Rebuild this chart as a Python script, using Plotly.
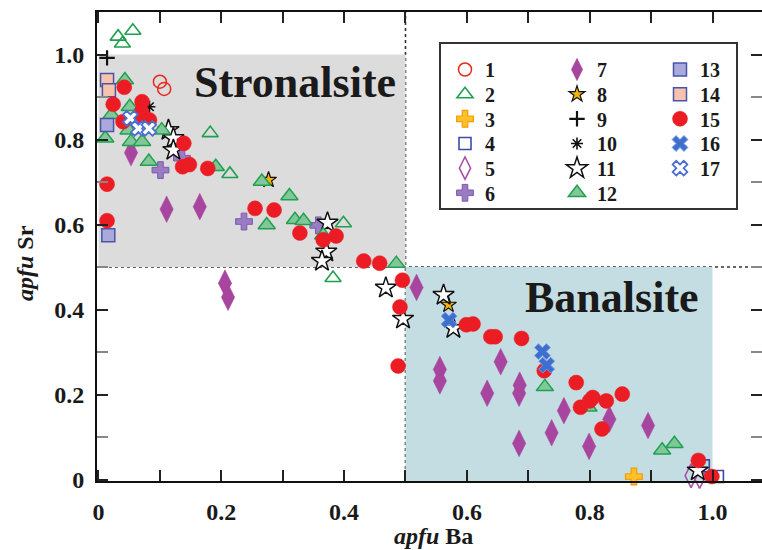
import plotly.graph_objects as go

# ---------------- data (apfu Ba, apfu Sr) ----------------
s1_x = [0.100, 0.107]
s1_y = [0.936, 0.919]
s2_x = [0.032, 0.056, 0.039, 0.182, 0.214, 0.399, 0.382]
s2_y = [1.042, 1.056, 1.026, 0.815, 0.719, 0.603, 0.474]
s3_x = [0.872]
s3_y = [0.007]
s4_x = [0.985, 1.008]
s4_y = [0.032, 0.007]
s5_x = [0.965, 0.979]
s5_y = [0.009, 0.007]
s6_x = [0.101, 0.136, 0.237, 0.358]
s6_y = [0.728, 0.756, 0.607, 0.598]
s7_x = [0.053, 0.111, 0.165, 0.206, 0.211, 0.518, 0.556, 0.556, 0.633, 0.655,
        0.686, 0.685, 0.685, 0.738, 0.758, 0.799, 0.832, 0.895]
s7_y = [0.769, 0.636, 0.642, 0.462, 0.429, 0.452, 0.259, 0.232, 0.203, 0.277,
        0.222, 0.203, 0.085, 0.110, 0.162, 0.078, 0.142, 0.127]
s8_x = [0.277, 0.570]
s8_y = [0.705, 0.411]
s9_x = [0.014]
s9_y = [0.992]
s10_x = [0.083]
s10_y = [0.877]
s11_x = [0.114, 0.122, 0.122, 0.373, 0.371, 0.364, 0.468, 0.496, 0.562, 0.578, 0.976]
s11_y = [0.822, 0.803, 0.775, 0.604, 0.536, 0.514, 0.451, 0.378, 0.434, 0.356, 0.021]
s12_x = [0.043, 0.051, 0.021, 0.011, 0.049, 0.053, 0.071, 0.082, 0.103, 0.191, 0.266,
         0.311, 0.274, 0.320, 0.334, 0.366, 0.485, 0.727, 0.798, 0.918, 0.938]
s12_y = [0.940, 0.877, 0.858, 0.803, 0.822, 0.795, 0.795, 0.748, 0.822, 0.736, 0.701,
         0.667, 0.599, 0.611, 0.609, 0.575, 0.508, 0.218, 0.170, 0.069, 0.084]
s13_x = [0.014, 0.016]
s13_y = [0.834, 0.575]
s14_x = [0.014, 0.017]
s14_y = [0.940, 0.916]
s15_x = [0.042, 0.024, 0.071, 0.070, 0.083, 0.066, 0.040, 0.139, 0.148, 0.137, 0.178,
         0.014, 0.014, 0.255, 0.286, 0.328, 0.366, 0.387, 0.432, 0.458, 0.495, 0.491,
         0.488, 0.599, 0.610, 0.639, 0.646, 0.689, 0.726, 0.778, 0.785, 0.800, 0.805,
         0.827, 0.853, 0.820, 0.977, 0.999]
s15_y = [0.923, 0.883, 0.889, 0.865, 0.846, 0.850, 0.842, 0.791, 0.741, 0.736, 0.732,
         0.695, 0.609, 0.638, 0.634, 0.580, 0.564, 0.573, 0.514, 0.509, 0.469, 0.406,
         0.267, 0.364, 0.366, 0.336, 0.336, 0.332, 0.256, 0.228, 0.170, 0.185, 0.193,
         0.185, 0.201, 0.119, 0.045, 0.007]
s16_x = [0.571, 0.723, 0.730]
s16_y = [0.375, 0.301, 0.269]
s17_x = [0.052, 0.065, 0.082]
s17_y = [0.850, 0.826, 0.826]

names = [str(i) for i in range(1, 18)]
xs = [s1_x, s2_x, s3_x, s4_x, s5_x, s6_x, s7_x, s8_x, s9_x, s10_x, s11_x, s12_x,
      s13_x, s14_x, s15_x, s16_x, s17_x]
ys = [s1_y, s2_y, s3_y, s4_y, s5_y, s6_y, s7_y, s8_y, s9_y, s10_y, s11_y, s12_y,
      s13_y, s14_y, s15_y, s16_y, s17_y]

x_ticks = [0, 0.2, 0.4, 0.6, 0.8, 1.0]
x_ticktext = ["0", "0.2", "0.4", "0.6", "0.8", "1.0"]
y_ticks = [0, 0.2, 0.4, 0.6, 0.8, 1.0]
y_ticktext = ["0", "0.2", "0.4", "0.6", "0.8", "1.0"]

# ---------------- styles ----------------
styles = [
    dict(symbol="circle-open", size=13, color="#e8291c", line=dict(width=1.5, color="#e8291c")),
    dict(symbol="triangle-up-open", size=14, color="#1fa050", line=dict(width=1.6, color="#1fa050")),
    dict(symbol="cross", size=14, color="#ffc125", line=dict(width=1.2, color="#f39c12")),
    dict(symbol="square-open", size=12, color="#3b4ba8", line=dict(width=1.6, color="#3b4ba8")),
    dict(symbol="diamond-tall-open", size=17, color="#a64ca6", line=dict(width=1.5, color="#a64ca6")),
    dict(symbol="cross", size=14, color="#9b7bc4", line=dict(width=1, color="#7a5aaa")),
    dict(symbol="diamond-tall", size=19, color="#a8459e", line=dict(width=0.5, color="#a8459e")),
    dict(symbol="star", size=12, color="#f5b400", line=dict(width=1.2, color="#111111")),
    dict(symbol="cross-thin-open", size=11, color="#111111", line=dict(width=2.2, color="#111111")),
    dict(symbol="asterisk-open", size=10, color="#111111", line=dict(width=1.6, color="#111111")),
    dict(symbol="star", size=16, color="#ffffff", line=dict(width=1.5, color="#111111")),
    dict(symbol="triangle-up", size=15, color="#80c89a", line=dict(width=1.5, color="#22a04f")),
    dict(symbol="square", size=13, color="#a9aadb", line=dict(width=1.5, color="#4a55a8")),
    dict(symbol="square", size=13, color="#f6c3ac", line=dict(width=1.5, color="#4a55a8")),
    dict(symbol="circle", size=15, color="#ec1c24", line=dict(width=0.5, color="#ec1c24")),
    dict(symbol="x", size=14, color="#3c6fd0", line=dict(width=1, color="#7a9ae0")),
    dict(symbol="x", size=13, color="#ffffff", line=dict(width=1.8, color="#4a6fd0")),
]

# ---------------- geometry ----------------
L, R, T, B = 97, 0, 12, 69
W, H = 762, 550
pw, ph = W - L - R, H - T - B
xr = [-0.0024, 1.0806]
yr = [-0.0035, 1.100]

def px(xpix):
    return (xpix - L) / pw

def py(ypix):
    return (H - B - ypix) / ph

serif = "Liberation Serif"

# legend layout: three columns of rows, one single-item legend per entry
col_left = [445, 557, 660]
row_center = [67, 91.7, 116.3, 141, 165.7, 190.3]
legfont = dict(family=serif, size=20, color="#1a1a1a", weight="bold")
legends = {}
fig = go.Figure()
for i in range(17):
    col = 0 if i < 6 else (1 if i < 12 else 2)
    row = i if i < 6 else (i - 6 if i < 12 else i - 12)
    key = "legend" if i == 0 else f"legend{i + 1}"
    legends[key] = dict(
        x=px(col_left[col]), y=py(row_center[row] - 17),
        xanchor="left", yanchor="top", bgcolor="rgba(0,0,0,0)", borderwidth=0,
        font=legfont, itemwidth=30, tracegroupgap=0,
    )
    fig.add_trace(go.Scatter(
        x=xs[i], y=ys[i], mode="markers", name=names[i],
        marker=styles[i], legend=key, cliponaxis=False,
    ))

shapes = [
    dict(type="rect", xref="x", yref="y", x0=0, x1=0.5, y0=0.5, y1=1.0,
         fillcolor="#dcdcdc", line=dict(width=0), layer="below"),
    dict(type="rect", xref="x", yref="y", x0=0.5, x1=1.0, y0=yr[0], y1=0.5,
         fillcolor="#c3dde2", line=dict(width=0), layer="below"),
    dict(type="line", xref="x", yref="paper", x0=0.5, x1=0.5, y0=0, y1=1,
         line=dict(color="#333333", width=1.6, dash="dot"), layer="below"),
    dict(type="line", xref="paper", yref="y", x0=0, x1=1, y0=0.5, y1=0.5,
         line=dict(color="#333333", width=1.6, dash="dot"), layer="below"),
    dict(type="rect", xref="paper", yref="paper", x0=px(440), x1=px(737),
         y0=py(209), y1=py(43), fillcolor="#ffffff",
         line=dict(color="#333333", width=2), layer="below"),
]

annotations = [
    dict(text="Stronalsite", x=px(295), y=py(82), xref="paper", yref="paper",
         xanchor="center", yanchor="middle", showarrow=False,
         font=dict(family=serif, size=44, color="#1a1a1a", weight="bold")),
    dict(text="Banalsite", x=px(612), y=py(297), xref="paper", yref="paper",
         xanchor="center", yanchor="middle", showarrow=False,
         font=dict(family=serif, size=44, color="#1a1a1a", weight="bold")),
    dict(text="<i>apfu</i> Ba", x=px(433), y=py(536), xref="paper", yref="paper",
         xanchor="center", yanchor="middle", showarrow=False,
         font=dict(family=serif, size=24, color="#1a1a1a", weight="bold")),
    dict(text="<i>apfu</i> Sr", x=px(25), y=py(263), xref="paper", yref="paper",
         xanchor="center", yanchor="middle", showarrow=False, textangle=-90,
         font=dict(family=serif, size=24, color="#1a1a1a", weight="bold")),
]

axis_common = dict(
    showline=True, linecolor="#111111", linewidth=2, mirror="ticks",
    ticks="inside", ticklen=11, tickwidth=1.5, tickcolor="#222222",
    showgrid=False, zeroline=False,
    tickfont=dict(family=serif, size=24, color="#1a1a1a", weight="bold"),
)

fig.update_layout(
    width=W, height=H,
    margin=dict(l=L, r=R, t=T, b=B, autoexpand=False),
    paper_bgcolor="white", plot_bgcolor="white",
    showlegend=True,
    xaxis=dict(range=xr, tickmode="array", tickvals=x_ticks, ticktext=x_ticktext,
               minor=dict(tickvals=[0.1, 0.3, 0.5, 0.7, 0.9], ticks="inside",
                          ticklen=11, tickwidth=1.5, tickcolor="#222222"),
               ticklabelstandoff=8, **axis_common),
    yaxis=dict(range=yr, tickmode="array", tickvals=y_ticks, ticktext=y_ticktext,
               minor=dict(tickvals=[0.1, 0.3, 0.5, 0.7, 0.9], ticks="inside",
                          ticklen=11, tickwidth=1.5, tickcolor="#888888"),
               ticklabelstandoff=6, **axis_common),
    shapes=shapes,
    annotations=annotations,
    **legends,
)

fig.write_html("out.html", config={"displayModeBar": False},
               post_script="document.body.style.margin='0px';")
